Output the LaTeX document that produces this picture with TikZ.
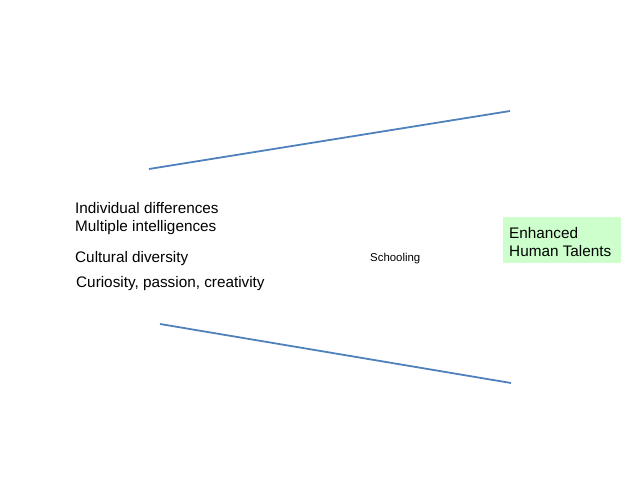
\documentclass[tikz,border=0pt]{standalone}
\usepackage{fontspec}
\setmainfont{Liberation Sans}
\usetikzlibrary{positioning}
\definecolor{lineblue}{RGB}{79, 129, 189}
\definecolor{talentgreen}{RGB}{204, 255, 204}

\begin{document}
\begin{tikzpicture}[
        x=1pt, y=-1pt,
        label/.style={inner sep=0pt, anchor=base west, font=\fontsize{15.3}{18}\selectfont},
        small/.style={inner sep=0pt, anchor=base west, font=\fontsize{11.4}{14}\selectfont},
        result/.style={rectangle, fill=talentgreen, inner sep=0pt, minimum width=118pt, minimum height=46pt},
        edge/.style={draw=lineblue, line width=1.8pt}
    ]
        \useasboundingbox (0,0) rectangle (638,479);

        % Left texts
        \node (diff) [label] at (75,213) {Individual differences};
        \node (multi) [label] at (75,231) {Multiple intelligences};
        \node (culture) [label] at (75,262) {Cultural diversity};
        \node (curious) [label] at (76,287) {Curiosity, passion, creativity};

        % Middle
        \node (school) [small] at (370,261) {Schooling};

        % Right box
        \node (talents) [result, anchor=north west] at (503,217) {};
        \node (enh) [label] at (509,238) {Enhanced};
        \node (human) [label] at (509,256) {Human Talents};

        % Funnel lines
        \coordinate (topleft) at (149,169);
        \coordinate (topright) at (510,111);
        \coordinate (botleft) at (160,324);
        \coordinate (botright) at (511,383);
        \draw [edge] (topleft) -- (topright);
        \draw [edge] (botleft) -- (botright);
    \end{tikzpicture}
\end{document}
